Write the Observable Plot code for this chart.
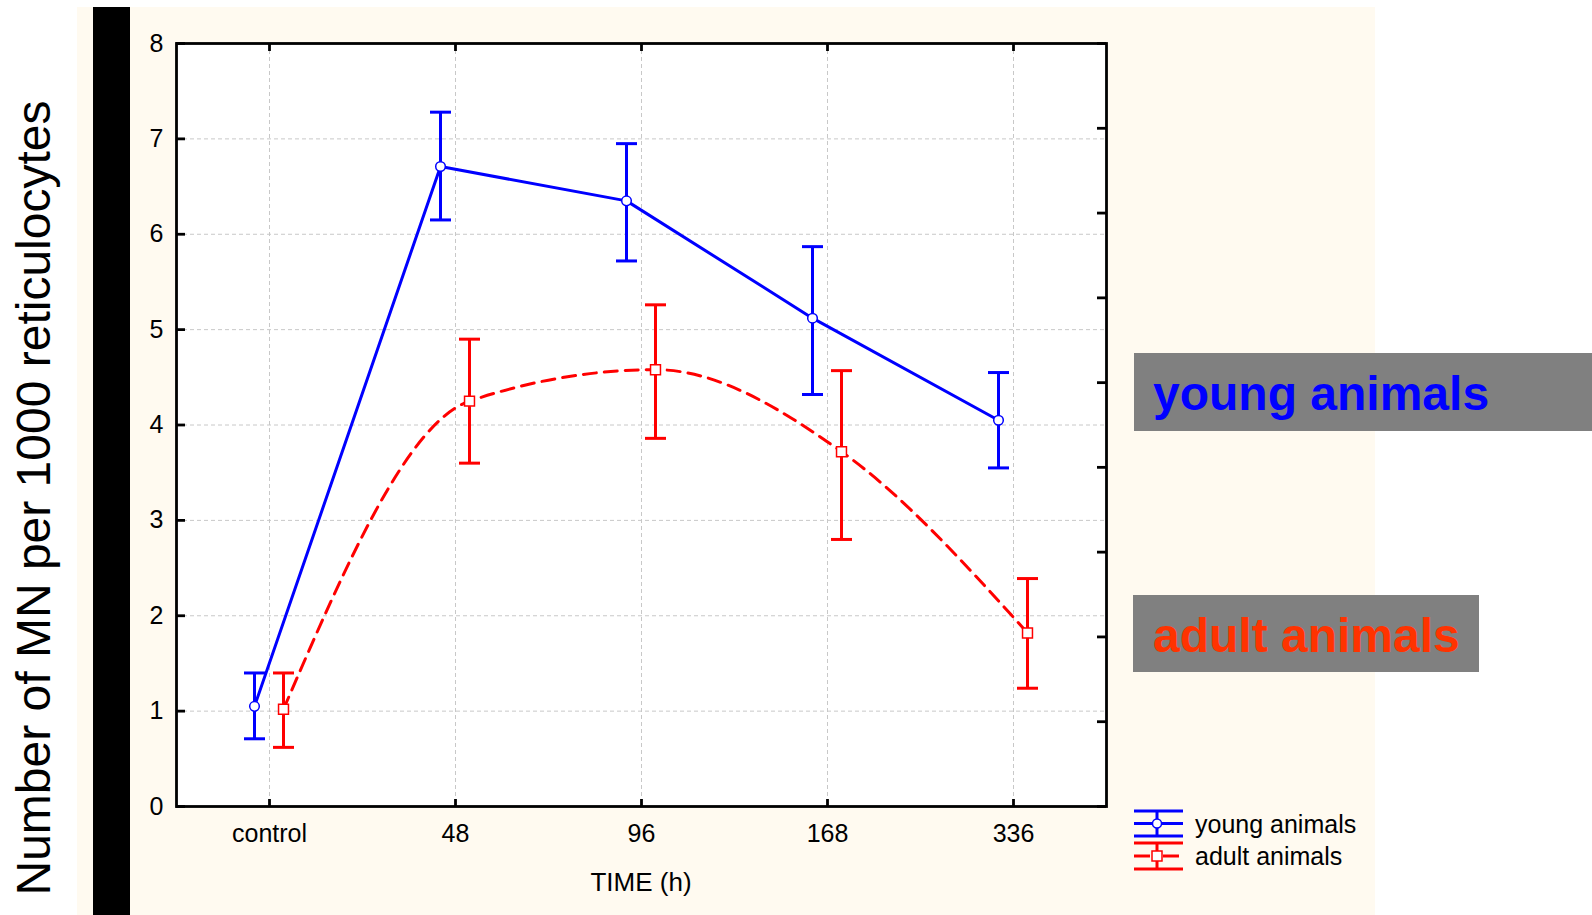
<!DOCTYPE html>
<html>
<head>
<meta charset="utf-8">
<script src="https://cdn.jsdelivr.net/npm/d3@7"></script>
<script src="https://cdn.jsdelivr.net/npm/@observablehq/plot@0.6"></script>
<style>
  body { margin: 0; background: #ffffff; }
  #wrap { position: relative; width: 1592px; height: 915px; overflow: hidden; font-family: "Liberation Sans", Arial, sans-serif; }
  #wrap > svg, #wrap > div { position: absolute; left: 0; top: 0; }
  #chart svg { display: block; }
</style>
</head>
<body>
<div id="wrap">
  <svg id="bg" width="1592" height="915">
    <rect x="77" y="7" width="1298" height="908" fill="#FFFAF0"></rect>
    <rect x="93" y="7" width="37" height="908" fill="#000000"></rect>
  </svg>
  <div id="chart"></div>
  <svg id="overlay" width="1592" height="915" style="pointer-events:none">
    <text transform="translate(50,498) rotate(-90)" text-anchor="middle" font-size="48" fill="#000">Number of MN per 1000 reticulocytes</text>
    <text x="641" y="891" text-anchor="middle" font-size="26" fill="#000">TIME (h)</text>
    <rect x="1134" y="353" width="458" height="78" fill="#808080"></rect>
    <text x="1153" y="410" font-size="48" font-weight="bold" fill="#0000FF">young animals</text>
    <rect x="1133" y="595" width="346" height="77" fill="#808080"></rect>
    <text x="1153" y="652" font-size="48" font-weight="bold" fill="#FF3300">adult animals</text>
    <g id="legend" stroke-width="3">
      <g stroke="#0000FF">
        <line x1="1134" x2="1183" y1="811" y2="811"></line>
        <line x1="1134" x2="1183" y1="836" y2="836"></line>
        <line x1="1134" x2="1152" y1="823.5" y2="823.5"></line>
        <line x1="1162" x2="1183" y1="823.5" y2="823.5"></line>
        <line x1="1157" x2="1157" y1="811" y2="836"></line>
        <circle cx="1157" cy="823.5" r="4.5" fill="#fff" stroke-width="1.5"></circle>
      </g>
      <g stroke="#FF0000">
        <line x1="1134" x2="1183" y1="843" y2="843"></line>
        <line x1="1134" x2="1183" y1="869" y2="869"></line>
        <line x1="1134" x2="1150" y1="856" y2="856"></line>
        <line x1="1163" x2="1179" y1="856" y2="856"></line>
        <line x1="1157" x2="1157" y1="843" y2="869"></line>
        <rect x="1152" y="851" width="10" height="10" fill="#fff" stroke-width="1.5"></rect>
      </g>
    </g>
    <text x="1195" y="833" font-size="25" fill="#000">young animals</text>
    <text x="1195" y="865" font-size="25" fill="#000">adult animals</text>
  </svg>
</div>
<script>
// ---- data ----
const times = ["control", "48", "96", "168", "336"];
const youngMean = [1.05, 6.71, 6.35, 5.12, 4.05];
const youngLow  = [0.71, 6.15, 5.72, 4.32, 3.55];
const youngHigh = [1.40, 7.28, 6.95, 5.87, 4.55];
const adultMean = [1.02, 4.25, 4.58, 3.72, 1.82];
const adultLow  = [0.62, 3.60, 3.86, 2.80, 1.24];
const adultHigh = [1.40, 4.90, 5.26, 4.57, 2.39];
const yTicks = [0, 1, 2, 3, 4, 5, 6, 7, 8];
const gridY = [1, 2, 3, 4, 5, 6, 7];
const rightTicks = [0, 0.889, 1.778, 2.667, 3.556, 4.444, 5.333, 6.222, 7.111, 8];

const young = times.map((t, i) => ({t, m: youngMean[i], lo: youngLow[i], hi: youngHigh[i]}));
const adult = times.map((t, i) => ({t, m: adultMean[i], lo: adultLow[i], hi: adultHigh[i]}));

const W = 1592, H = 915;
const mL = 176, mR = 486, mT = 43, mB = 109;
const fw = W - mL - mR, fh = H - mT - mB;
const BLUE = "#0000FF", RED = "#FF0000";
const capSym = {draw(ctx) { ctx.moveTo(-10.5, 0); ctx.lineTo(10.5, 0); }};
const dxY = -15, dxA = 14;

const chart = Plot.plot({
  width: W, height: H,
  marginLeft: mL, marginRight: mR, marginTop: mT, marginBottom: mB,
  style: {background: "transparent", fontSize: "25px", fontFamily: "Liberation Sans, Arial, sans-serif", color: "#000", overflow: "visible"},
  x: {type: "point", domain: times, padding: 0.5, round: false, tickSize: 0, tickPadding: 18, label: null},
  y: {domain: [0, 8], ticks: yTicks, tickSize: 0, tickPadding: 13, label: null},
  marks: [
    Plot.frame({fill: "white"}),
    Plot.ruleX(times, {x: d => d, stroke: "#c8c8c8", strokeWidth: 1, strokeDasharray: "4,3"}),
    Plot.ruleY(gridY, {y: d => d, stroke: "#c8c8c8", strokeWidth: 1, strokeDasharray: "4,3"}),
    // young animals
    Plot.ruleX(young, {x: "t", y1: "lo", y2: "hi", dx: dxY, stroke: BLUE, strokeWidth: 3}),
    Plot.dot(young, {x: "t", y: "hi", dx: dxY, symbol: capSym, fill: "none", stroke: BLUE, strokeWidth: 3}),
    Plot.dot(young, {x: "t", y: "lo", dx: dxY, symbol: capSym, fill: "none", stroke: BLUE, strokeWidth: 3}),
    Plot.line(young, {x: "t", y: "m", dx: dxY, stroke: BLUE, strokeWidth: 3}),
    // adult animals
    Plot.ruleX(adult, {x: "t", y1: "lo", y2: "hi", dx: dxA, stroke: RED, strokeWidth: 3}),
    Plot.dot(adult, {x: "t", y: "hi", dx: dxA, symbol: capSym, fill: "none", stroke: RED, strokeWidth: 3}),
    Plot.dot(adult, {x: "t", y: "lo", dx: dxA, symbol: capSym, fill: "none", stroke: RED, strokeWidth: 3}),
    Plot.line(adult, {x: "t", y: "m", dx: dxA, curve: "monotone-x", stroke: RED, strokeWidth: 3, strokeDasharray: "13,8"}),
    Plot.dot(young, {x: "t", y: "m", dx: dxY, r: 4.8, fill: "white", stroke: BLUE, strokeWidth: 1.5}),
    Plot.dot(adult, {x: "t", y: "m", dx: dxA, symbol: "square", r: 5.6, fill: "white", stroke: RED, strokeWidth: 1.5}),
    // frame and inward ticks
    Plot.frame({stroke: "black", strokeWidth: 2.8}),
    Plot.ruleY(yTicks, {y: d => d, insetRight: fw - 9, stroke: "black", strokeWidth: 2.8}),
    Plot.ruleY(rightTicks, {y: d => d, insetLeft: fw - 9, stroke: "black", strokeWidth: 2.8}),
    Plot.ruleX(times, {x: d => d, insetBottom: fh - 8, stroke: "black", strokeWidth: 2.8}),
    Plot.ruleX(times, {x: d => d, insetTop: fh - 7, stroke: "black", strokeWidth: 2.8})
  ]
});
document.getElementById("chart").appendChild(chart);
</script>
</body>
</html>
